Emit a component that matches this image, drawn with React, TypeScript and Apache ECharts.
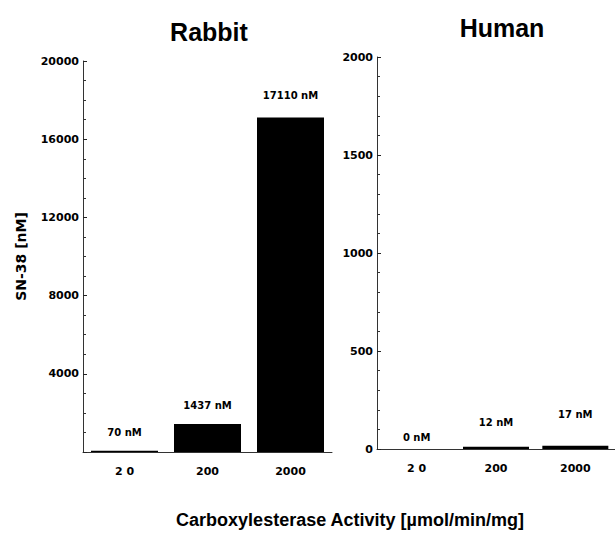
import React, { useEffect, useRef } from "react";
import * as echarts from "echarts";

const categories = ["2 0", "200", "2000"];
const rabbitValues = [70, 1437, 17110];
const humanValues = [0, 12, 17];
const rabbitLabels = ["70 nM", "1437 nM", "17110 nM"];
const humanLabels = ["0 nM", "12 nM", "17 nM"];
const rabbitTitle = "Rabbit";
const humanTitle = "Human";
const yName = "SN-38 [nM]";
const xName = "Carboxylesterase Activity [µmol/min/mg]";

// label gaps (style only)
const rabbitGap = [13, 13, 17];
const humanGap = [7, 19, 26];

const TICK_FONT = "DejaVu Sans";

export default function App() {
  const ref = useRef<HTMLDivElement>(null);
  useEffect(() => {
    document.body.style.margin = "0";
    const chart = echarts.init(ref.current!, null, { renderer: "svg" });
    const axisLine = { show: true, lineStyle: { color: "#333", width: 1 } };
    const yAxisCommon = {
      type: "value" as const,
      axisLine,
      axisTick: { show: true, inside: true, length: 4, lineStyle: { color: "#222" } },
      minorTick: { show: true, length: 3, lineStyle: { color: "#333" } },
      splitLine: { show: false },
      axisLabel: {
        color: "#000",
        fontFamily: TICK_FONT,
        fontWeight: "bold" as const,
        fontSize: 11,
        margin: 4,
        formatter: (v: number) => String(v),
      },
    };
    const xAxisCommon = {
      type: "category" as const,
      data: categories,
      axisLine,
      axisTick: { show: false },
      axisLabel: {
        color: "#000",
        fontFamily: TICK_FONT,
        fontWeight: "bold" as const,
        fontSize: 11,
        margin: 14,
      },
    };
    const mkData = (vals: number[], labels: string[], gaps: number[]) =>
      vals.map((v, i) => ({
        value: v,
        label: { show: true, position: "top", distance: gaps[i], formatter: labels[i] },
      }));
    const labelStyle = {
      color: "#000",
      fontFamily: TICK_FONT,
      fontWeight: "bold" as const,
      fontSize: 10,
    };
    chart.setOption({
      animation: false,
      backgroundColor: "#fff",
      grid: [
        { left: 83, top: 61, width: 249, height: 391 },
        { left: 377, top: 57, width: 246, height: 392 },
      ],
      xAxis: [
        { ...xAxisCommon, gridIndex: 0 },
        { ...xAxisCommon, gridIndex: 1 },
      ],
      yAxis: [
        {
          ...yAxisCommon,
          gridIndex: 0,
          min: 0,
          max: 20000,
          interval: 4000,
          minorTick: { ...yAxisCommon.minorTick, splitNumber: 4 },
          axisLabel: {
            ...yAxisCommon.axisLabel,
            formatter: (v: number) => (v === 0 ? "" : String(v)),
          },
          name: yName,
          nameLocation: "middle",
          nameRotate: 90,
          nameGap: 55,
          nameTextStyle: {
            color: "#000",
            fontFamily: TICK_FONT,
            fontWeight: "bold",
            fontSize: 14,
          },
        },
        {
          ...yAxisCommon,
          gridIndex: 1,
          min: 0,
          max: 2000,
          interval: 500,
          minorTick: { ...yAxisCommon.minorTick, splitNumber: 5 },
        },
      ],
      series: [
        {
          type: "bar",
          xAxisIndex: 0,
          yAxisIndex: 0,
          data: mkData(rabbitValues, rabbitLabels, rabbitGap),
          barWidth: 67,
          itemStyle: { color: "#000" },
          label: labelStyle,
        },
        {
          type: "bar",
          xAxisIndex: 1,
          yAxisIndex: 1,
          data: mkData(humanValues, humanLabels, humanGap),
          barWidth: 66,
          itemStyle: { color: "#000" },
          label: labelStyle,
        },
      ],
      graphic: [
        {
          type: "text",
          x: 209,
          y: 32,
          style: {
            text: rabbitTitle,
            fill: "#000",
            font: "bold 25px 'Liberation Sans', Arial, sans-serif",
            textAlign: "center",
            textVerticalAlign: "middle",
          },
        },
        {
          type: "text",
          x: 502,
          y: 28,
          style: {
            text: humanTitle,
            fill: "#000",
            font: "bold 25px 'Liberation Sans', Arial, sans-serif",
            textAlign: "center",
            textVerticalAlign: "middle",
          },
        },
        {
          type: "text",
          x: 350,
          y: 520,
          style: {
            text: xName,
            fill: "#000",
            font: "bold 18px 'Liberation Sans', Arial, sans-serif",
            textAlign: "center",
            textVerticalAlign: "middle",
          },
        },
      ],
    });
    return () => chart.dispose();
  }, []);
  return <div ref={ref} style={{ width: 615, height: 534 }} />;
}
